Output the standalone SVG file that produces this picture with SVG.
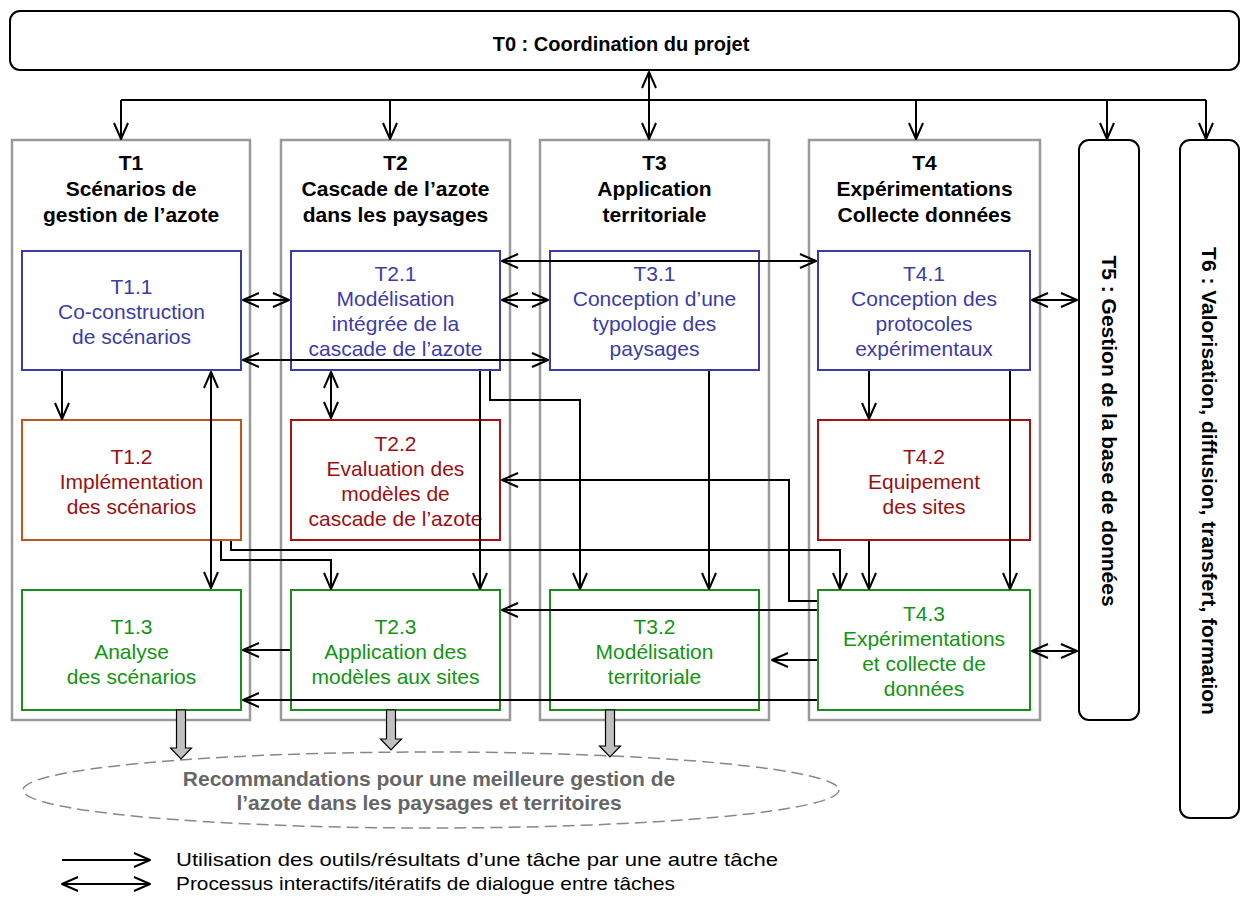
<svg xmlns="http://www.w3.org/2000/svg" width="1242" height="902" viewBox="0 0 1242 902">
<style>
text{font-family:"Liberation Sans",Arial,sans-serif;}
.hd{font-size:21px;font-weight:bold;text-anchor:middle;fill:#000;}
.t0{font-size:20px;}
.st{font-size:21px;text-anchor:middle;}
.col{fill:none;stroke:#9a9a9a;stroke-width:2.5;}
.blue{fill:#fff;stroke:#3c3ca8;stroke-width:2;}
.red{fill:#fff;stroke:#a01414;stroke-width:2;}
.org{fill:#fff;stroke:#c0581c;stroke-width:2;}
.grn{fill:#fff;stroke:#1c8c1c;stroke-width:2;}
.tb{fill:#3c3ca8;}
.tr{fill:#9a1010;}
.tg{fill:#139413;}
.rnd{fill:#fff;stroke:#000;stroke-width:2;}
.c{fill:none;stroke:#000;stroke-width:2;}
.s{marker-end:url(#ah);}
.d{marker-start:url(#ah);marker-end:url(#ah);}
.blk{fill:#c0c0c0;stroke:#000;stroke-width:1.2;}
.lg{font-size:19px;fill:#000;}
</style>
<defs>
<marker id="ah" viewBox="-18 -9 20 18" refX="0" refY="0" markerWidth="20" markerHeight="18" markerUnits="userSpaceOnUse" orient="auto-start-reverse">
<path d="M-16,-7 L0,0 L-16,7" fill="none" stroke="#000" stroke-width="2" stroke-linejoin="round"/>
</marker>
</defs>
<rect width="1242" height="902" fill="#fff"/>

<g id="T0">
<rect class="rnd" x="10" y="11" width="1229" height="59" rx="10"/>
<text class="hd t0" x="621" y="51">T0 : Coordination du projet</text>
</g>

<g id="T1">
<rect class="col" x="12" y="140" width="238" height="580"/>
<text class="hd" x="131" y="170">T1</text>
<text class="hd" x="131" y="196">Scénarios de</text>
<text class="hd" x="131" y="222">gestion de l’azote</text>
</g>
<g id="T2">
<rect class="col" x="281" y="140" width="229" height="580"/>
<text class="hd" x="395.5" y="170">T2</text>
<text class="hd" x="395.5" y="196">Cascade de l’azote</text>
<text class="hd" x="395.5" y="222">dans les paysages</text>
</g>
<g id="T3">
<rect class="col" x="540" y="140" width="229" height="580"/>
<text class="hd" x="654.5" y="170">T3</text>
<text class="hd" x="654.5" y="196">Application</text>
<text class="hd" x="654.5" y="222">territoriale</text>
</g>
<g id="T4">
<rect class="col" x="809" y="140" width="231" height="580"/>
<text class="hd" x="924.5" y="170">T4</text>
<text class="hd" x="924.5" y="196">Expérimentations</text>
<text class="hd" x="924.5" y="222">Collecte données</text>
</g>
<g id="T5">
<rect class="rnd" x="1079" y="140" width="60" height="580" rx="10"/>
<text class="hd" transform="translate(1109,431) rotate(90)" dominant-baseline="central">T5 : Gestion de la base de données</text>
</g>
<g id="T6">
<rect class="rnd" x="1180" y="140" width="59" height="678" rx="10"/>
<text class="hd" transform="translate(1209.5,481) rotate(90)" dominant-baseline="central">T6 : Valorisation, diffusion, transfert, formation</text>
</g>

<g id="T1.1">
<rect class="blue" x="22" y="251" width="219" height="119"/>
<text class="st tb" x="131.5" y="294">T1.1</text>
<text class="st tb" x="131.5" y="319">Co-construction</text>
<text class="st tb" x="131.5" y="344">de scénarios</text>
</g>
<g id="T1.2">
<rect class="org" x="22" y="420" width="219" height="120"/>
<text class="st tr" x="131.5" y="463.5">T1.2</text>
<text class="st tr" x="131.5" y="488.5">Implémentation</text>
<text class="st tr" x="131.5" y="513.5">des scénarios</text>
</g>
<g id="T1.3">
<rect class="grn" x="22" y="590" width="219" height="120"/>
<text class="st tg" x="131.5" y="633.5">T1.3</text>
<text class="st tg" x="131.5" y="658.5">Analyse</text>
<text class="st tg" x="131.5" y="683.5">des scénarios</text>
</g>

<g id="T2.1">
<rect class="blue" x="291" y="251" width="209" height="119"/>
<text class="st tb" x="395.5" y="281">T2.1</text>
<text class="st tb" x="395.5" y="306">Modélisation</text>
<text class="st tb" x="395.5" y="331">intégrée de la</text>
<text class="st tb" x="395.5" y="356">cascade de l’azote</text>
</g>
<g id="T2.2">
<rect class="red" x="291" y="420" width="209" height="120"/>
<text class="st tr" x="395.5" y="451">T2.2</text>
<text class="st tr" x="395.5" y="476">Evaluation des</text>
<text class="st tr" x="395.5" y="501">modèles de</text>
<text class="st tr" x="395.5" y="526">cascade de l’azote</text>
</g>
<g id="T2.3">
<rect class="grn" x="291" y="590" width="209" height="120"/>
<text class="st tg" x="395.5" y="633.5">T2.3</text>
<text class="st tg" x="395.5" y="658.5">Application des</text>
<text class="st tg" x="395.5" y="683.5">modèles aux sites</text>
</g>

<g id="T3.1">
<rect class="blue" x="550" y="251" width="209" height="119"/>
<text class="st tb" x="654.5" y="281">T3.1</text>
<text class="st tb" x="654.5" y="306">Conception d’une</text>
<text class="st tb" x="654.5" y="331">typologie des</text>
<text class="st tb" x="654.5" y="356">paysages</text>
</g>
<g id="T3.2">
<rect class="grn" x="550" y="590" width="209" height="120"/>
<text class="st tg" x="654.5" y="633.5">T3.2</text>
<text class="st tg" x="654.5" y="658.5">Modélisation</text>
<text class="st tg" x="654.5" y="683.5">territoriale</text>
</g>

<g id="T4.1">
<rect class="blue" x="818" y="251" width="212" height="119"/>
<text class="st tb" x="924" y="281">T4.1</text>
<text class="st tb" x="924" y="306">Conception des</text>
<text class="st tb" x="924" y="331">protocoles</text>
<text class="st tb" x="924" y="356">expérimentaux</text>
</g>
<g id="T4.2">
<rect class="red" x="818" y="420" width="212" height="120"/>
<text class="st tr" x="924" y="463.5">T4.2</text>
<text class="st tr" x="924" y="488.5">Equipement</text>
<text class="st tr" x="924" y="513.5">des sites</text>
</g>
<g id="T4.3">
<rect class="grn" x="818" y="590" width="212" height="120"/>
<text class="st tg" x="924" y="621">T4.3</text>
<text class="st tg" x="924" y="646">Expérimentations</text>
<text class="st tg" x="924" y="671">et collecte de</text>
<text class="st tg" x="924" y="696">données</text>
</g>

<g id="reco">
<ellipse cx="431" cy="790" rx="408" ry="38" fill="none" stroke="#888" stroke-width="1.5" stroke-dasharray="12 6"/>
<text x="429" y="786" font-size="21" font-weight="bold" fill="#666" text-anchor="middle">Recommandations pour une meilleure gestion de</text>
<text x="429" y="810" font-size="21" font-weight="bold" fill="#666" text-anchor="middle">l’azote dans les paysages et territoires</text>
</g>

<g id="outputs">
<polygon class="blk" points="176.5,710 185.5,710 185.5,748 191.5,748 181,759 170.5,748 176.5,748"/>
<polygon class="blk" points="386.5,710 395.5,710 395.5,739 401.5,739 391,750 380.5,739 386.5,739"/>
<polygon class="blk" points="605.5,710 614.5,710 614.5,746 620.5,746 610,757 599.5,746 605.5,746"/>
</g>

<g id="connectors">
<polyline class="c" points="121,100 1206,100"/>
<line class="c s" x1="121" y1="100" x2="121" y2="139"/>
<line class="c s" x1="390" y1="100" x2="390" y2="139"/>
<line class="c d" x1="649" y1="72" x2="649" y2="139"/>
<line class="c s" x1="916" y1="100" x2="916" y2="139"/>
<line class="c s" x1="1107" y1="100" x2="1107" y2="139"/>
<line class="c s" x1="1206" y1="100" x2="1206" y2="139"/>

<line class="c d" x1="243" y1="300" x2="289" y2="300"/>
<line class="c d" x1="502" y1="300" x2="548" y2="300"/>
<line class="c d" x1="502" y1="261" x2="816" y2="261"/>
<line class="c d" x1="243" y1="360" x2="548" y2="360"/>
<line class="c d" x1="1032" y1="300" x2="1077" y2="300"/>
<line class="c d" x1="1032" y1="651" x2="1077" y2="651"/>

<line class="c s" x1="62" y1="371" x2="62" y2="419"/>
<line class="c d" x1="211" y1="372" x2="211" y2="588"/>
<line class="c d" x1="331" y1="372" x2="331" y2="418"/>
<line class="c s" x1="480" y1="371" x2="480" y2="589"/>
<polyline class="c s" points="490,371 490,400 580,400 580,589"/>
<line class="c s" x1="709" y1="371" x2="709" y2="589"/>
<line class="c s" x1="869" y1="371" x2="869" y2="419"/>
<line class="c s" x1="1010" y1="371" x2="1010" y2="589"/>
<line class="c s" x1="869" y1="541" x2="869" y2="589"/>

<polyline class="c s" points="221,541 221,560 331,560 331,589"/>
<polyline class="c s" points="231,541 231,550 840,550 840,589"/>
<polyline class="c s" points="817,601 789,601 789,480 502,480"/>
<line class="c s" x1="817" y1="610" x2="502" y2="610"/>
<line class="c s" x1="817" y1="660" x2="772" y2="660"/>
<line class="c s" x1="817" y1="700" x2="243" y2="700"/>
<line class="c s" x1="290" y1="650" x2="243" y2="650"/>
</g>

<g id="legend">
<line class="c s" x1="62" y1="860" x2="150" y2="860"/>
<line class="c d" x1="62" y1="884" x2="150" y2="884"/>
<text class="lg" x="176" y="866" textLength="602" lengthAdjust="spacingAndGlyphs">Utilisation des outils/résultats d’une tâche par une autre tâche</text>
<text class="lg" x="176" y="890" textLength="499" lengthAdjust="spacingAndGlyphs">Processus interactifs/itératifs de dialogue entre tâches</text>
</g>
</svg>
